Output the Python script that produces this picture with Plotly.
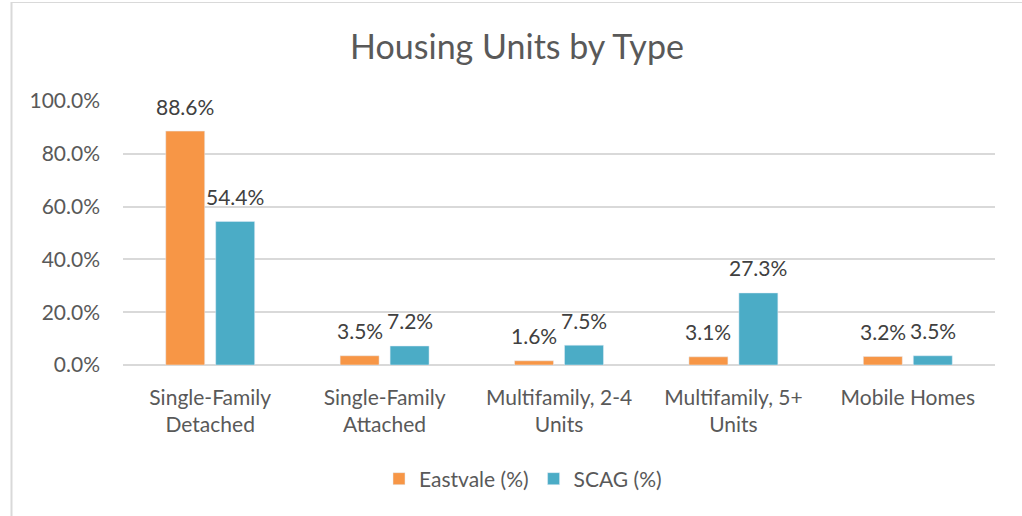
import plotly.graph_objects as go

categories = ["Single-Family<br>Detached", "Single-Family<br>Attached", "Multifamily, 2-4<br>Units",
              "Multifamily, 5+<br>Units", "Mobile Homes"]
eastvale = [0.886, 0.035, 0.016, 0.031, 0.032]
scag = [0.544, 0.072, 0.075, 0.273, 0.035]
y_ticks = [0, 0.2, 0.4, 0.6, 0.8, 1.0]

FONT = "Lato"
TXT = "#595959"
LBL = "#404040"

fig = go.Figure()
fig.add_trace(go.Bar(x=categories, y=eastvale, name="Eastvale (%)", marker_color="#F79646"))
fig.add_trace(go.Bar(x=categories, y=scag, name="SCAG (%)", marker_color="#4BACC6"))

annotations = []
for series, shift in ((eastvale, -25), (scag, 25)):
    for c, v in zip(categories, series):
        annotations.append(dict(x=c, y=v, xref="x", yref="y", text=f"{v*100:.1f}%", showarrow=False,
                                xanchor="center", yanchor="middle", xshift=shift, yshift=25,
                                font=dict(size=21, color=LBL, family=FONT)))

W, H = 1022, 516
L, R, T, B = 123, 27, 101, 151
pw, ph = W - L - R, H - T - B

def px_x(p):
    return (p - L) / pw

def px_y(p):
    return (H - B - p) / ph

fig.update_layout(
    width=W, height=H,
    margin=dict(l=L, r=R, t=T, b=B, autoexpand=False),
    paper_bgcolor="white", plot_bgcolor="white",
    font=dict(family=FONT, color=TXT, size=21),
    title=dict(text="Housing Units by Type", xref="container", x=517 / W, xanchor="center",
               y=1 - 47 / H, yanchor="middle",
               font=dict(size=34, color=TXT, family=FONT)),
    barmode="group", bargap=0.427, bargroupgap=0.22,
    showlegend=True,
    legend=dict(orientation="h", x=px_x(523), xanchor="center",
                y=px_y(479), yanchor="middle",
                font=dict(size=21, color=TXT), itemwidth=30),
    xaxis=dict(showgrid=False, showline=False, ticks="", ticklabelstandoff=18,
               tickfont=dict(size=21, color=TXT)),
    yaxis=dict(range=[0, 1.0], tickvals=y_ticks, tickformat=".1%", showgrid=True, gridcolor="#D9D9D9",
               gridwidth=1.5, zeroline=True, zerolinecolor="#D9D9D9", zerolinewidth=1.5,
               ticks="", ticklabelstandoff=22, tickfont=dict(size=21, color=TXT)),
    annotations=annotations,
    shapes=[
        dict(type="line", xref="paper", yref="paper", x0=px_x(11.5), x1=px_x(11.5),
             y0=px_y(2), y1=px_y(H + 2), line=dict(color="#D9D9D9", width=2), layer="below"),
        dict(type="line", xref="paper", yref="paper", x0=px_x(11), x1=px_x(W + 2),
             y0=px_y(2.5), y1=px_y(2.5), line=dict(color="#D9D9D9", width=1.2), layer="below"),
    ],
)

fig.write_html("out.html", config={"displayModeBar": False},
               post_script="document.body.style.margin='0';")
